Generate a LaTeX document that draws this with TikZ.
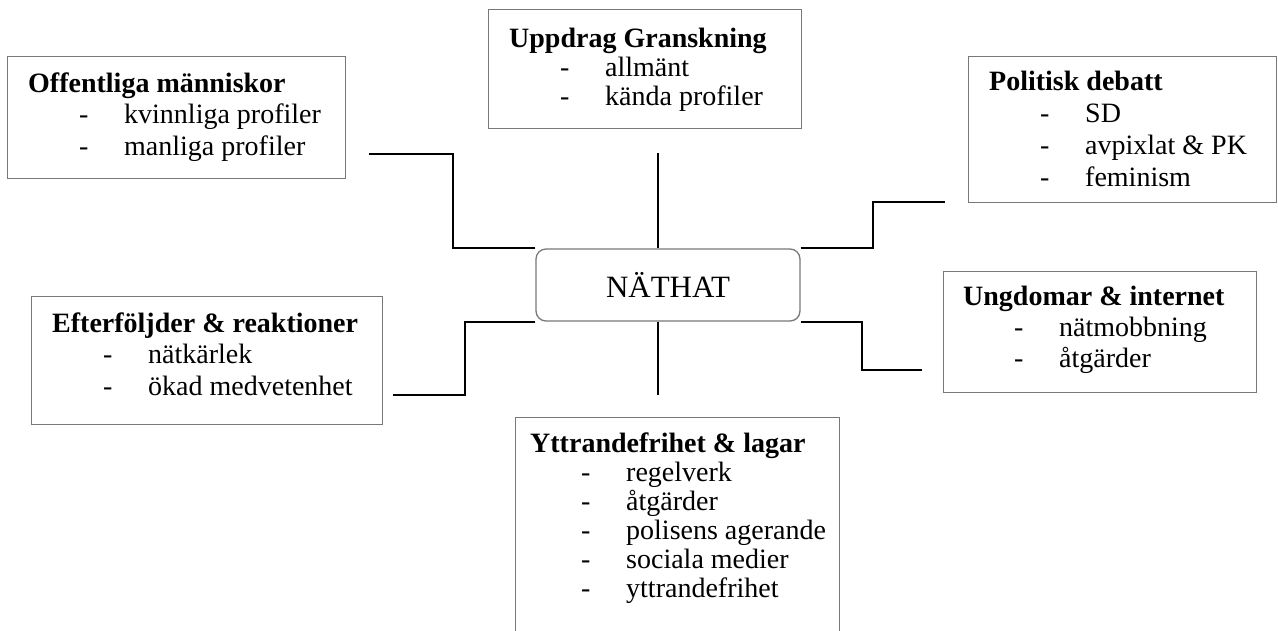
\documentclass[tikz,border=0pt]{standalone}
\usepackage{fontspec}
\setmainfont{Liberation Serif}
\usepackage{tikz}
\usetikzlibrary{calc}

\definecolor{rim}{RGB}{120,120,120}
% one line of a topic list: dash, then the text
\newcommand{\punkt}[1]{\hspace*{51pt}\makebox[45pt][l]{-}#1}

\begin{document}
\begin{tikzpicture}[x=1pt, y=-1pt,
  topic/.style = {draw=rim, line width=1.3pt, inner sep=0pt, anchor=north west},
  topictext/.style = {anchor=base west, inner sep=0pt, font=\fontsize{28}{31}\selectfont},
  hub/.style = {draw=rim, line width=1.3pt, rounded corners=10pt, minimum width=264pt, minimum height=72pt, font=\fontsize{31}{36}\selectfont},
  link/.style = {line width=1.8pt}]
\useasboundingbox (0,0) rectangle (1278,630);

% center
\node[hub] (hub) at (668,285) {NÄTHAT};

% boxes
\node[topic, minimum width=338pt, minimum height=122pt] (offentliga) at (7,56) {};
\node[topic, minimum width=313pt, minimum height=119pt] (uppdrag) at (488,9) {};
\node[topic, minimum width=308pt, minimum height=146pt] (politisk) at (968,56) {};
\node[topic, minimum width=313pt, minimum height=121pt] (ungdomar) at (943,271) {};
\node[topic, minimum width=351pt, minimum height=128pt] (efterfoljder) at (31,296) {};
\node[topic, minimum width=324pt, minimum height=220pt] (yttrande) at (515,417) {};

% box texts
\node[topictext, font=\fontsize{28}{31.5}\selectfont] (offentliga-txt) at (28,92) {\begin{tabular}[t]{@{}l@{}}
  \textbf{Offentliga människor}\\ \punkt{kvinnliga profiler}\\ \punkt{manliga profiler}\end{tabular}};
\node[topictext, font=\fontsize{28}{29}\selectfont] (uppdrag-txt) at (509,47) {\begin{tabular}[t]{@{}l@{}}
  \textbf{Uppdrag Granskning}\\ \punkt{allmänt}\\ \punkt{kända profiler}\end{tabular}};
\node[topictext, font=\fontsize{28}{32}\selectfont] (politisk-txt) at (989,90) {\begin{tabular}[t]{@{}l@{}}
  \textbf{Politisk debatt}\\ \punkt{SD}\\ \punkt{avpixlat \& PK}\\ \punkt{feminism}\end{tabular}};
\node[topictext] (ungdomar-txt) at (963,305) {\begin{tabular}[t]{@{}l@{}}
  \textbf{Ungdomar \& internet}\\ \punkt{nätmobbning}\\ \punkt{åtgärder}\end{tabular}};
\node[topictext, font=\fontsize{28}{31.5}\selectfont] (efterfoljder-txt) at (52,332) {\begin{tabular}[t]{@{}l@{}}
  \textbf{Efterföljder \& reaktioner}\\ \punkt{nätkärlek}\\ \punkt{ökad medvetenhet}\end{tabular}};
\node[topictext, font=\fontsize{28}{29}\selectfont] (yttrande-txt) at (530,452) {\begin{tabular}[t]{@{}l@{}}
  \textbf{Yttrandefrihet \& lagar}\\ \punkt{regelverk}\\ \punkt{åtgärder}\\ \punkt{polisens agerande}\\
  \punkt{sociala medier}\\ \punkt{yttrandefrihet}\end{tabular}};

% loose ends of the links
\coordinate (c-offentliga) at (369,154);
\coordinate (c-uppdrag) at (658,153);
\coordinate (c-politisk) at (945,202);
\coordinate (c-ungdomar) at (922,370);
\coordinate (c-yttrande) at (658,395);
\coordinate (c-efterfoljder) at (393,395);

% links
\draw[link] (hub.north west) -- ++(-82,0) |- (c-offentliga);
\draw[link] (c-uppdrag) -- (c-uppdrag |- hub.north);
\draw[link] (hub.north east) -- ++(72,0) |- (c-politisk);
\draw[link] (hub.south east) -- ++(61,0) |- (c-ungdomar);
\draw[link] (c-yttrande |- hub.south) -- (c-yttrande);
\draw[link] (hub.south west) -- ++(-70,0) |- (c-efterfoljder);
\end{tikzpicture}
\end{document}
